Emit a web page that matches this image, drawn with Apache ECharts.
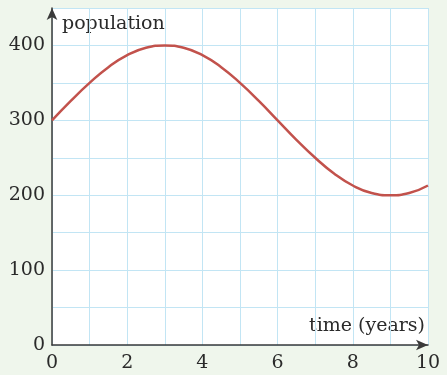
<!DOCTYPE html>
<html>
<head>
<meta charset="utf-8">
<script src="https://cdn.jsdelivr.net/npm/echarts@6/dist/echarts.min.js"></script>
<style>
  html, body { margin: 0; padding: 0; background: #eff6ec; }
  #chart { width: 447px; height: 375px; }
</style>
</head>
<body>
<div id="chart"></div>
<script>
// Population over ten years, sampled every half year
const years = [0, 0.5, 1, 1.5, 2, 2.5, 3, 3.5, 4, 4.5, 5, 5.5, 6, 6.5, 7, 7.5, 8, 8.5, 9, 9.5, 10];
const population = [300, 326, 350, 371, 387, 397, 400, 397, 387, 371, 350, 326, 300, 274, 250, 229, 213, 203, 200, 203, 213];
const xTickLabels = [0, 2, 4, 6, 8, 10];
const yTickLabels = [0, 100, 200, 300, 400];
const xTitle = 'time (years)';
const yTitle = 'population';

const points = years.map((t, i) => [t, population[i]]);
const font = '"DejaVu Serif", "Liberation Serif", serif';
const textColor = '#2a2a2a';
const gridColor = '#c2e5f4';

const chart = echarts.init(document.getElementById('chart'));
chart.setOption({
  animation: false,
  backgroundColor: '#eff6ec',
  grid: {
    left: 52, right: 19, top: 8, bottom: 30,
    show: true, backgroundColor: '#ffffff', borderWidth: 0
  },
  xAxis: {
    type: 'value', min: 0, max: 10, interval: 1,
    axisLine: { show: true, lineStyle: { color: '#3a3a3a', width: 1.5 }, symbol: ['none', 'arrow'], symbolSize: [8, 12] },
    axisTick: { show: false },
    splitLine: { show: true, lineStyle: { color: gridColor, width: 1 } },
    axisLabel: {
      color: textColor, fontFamily: font, fontSize: 19, margin: 9,
      formatter: v => xTickLabels.includes(v) ? String(v) : ''
    }
  },
  yAxis: {
    type: 'value', min: 0, max: 450, interval: 50,
    axisLine: { show: true, lineStyle: { color: '#3a3a3a', width: 1.5 }, symbol: ['none', 'arrow'], symbolSize: [8, 12] },
    axisTick: { show: false },
    splitLine: { show: true, lineStyle: { color: gridColor, width: 1 } },
    axisLabel: {
      color: textColor, fontFamily: font, fontSize: 19, margin: 7,
      formatter: v => yTickLabels.includes(v) ? String(v) : ''
    }
  },
  graphic: [
    { type: 'text', left: 62, top: 15, style: { text: yTitle, fill: textColor, font: '19px ' + font } },
    { type: 'text', right: 22, top: 317, style: { text: xTitle, fill: textColor, font: '19px ' + font, textAlign: 'right' } }
  ],
  series: [{
    type: 'line',
    data: points,
    smooth: true,
    showSymbol: false,
    lineStyle: { color: '#c2524c', width: 2.5 }
  }]
});
</script>
</body>
</html>
